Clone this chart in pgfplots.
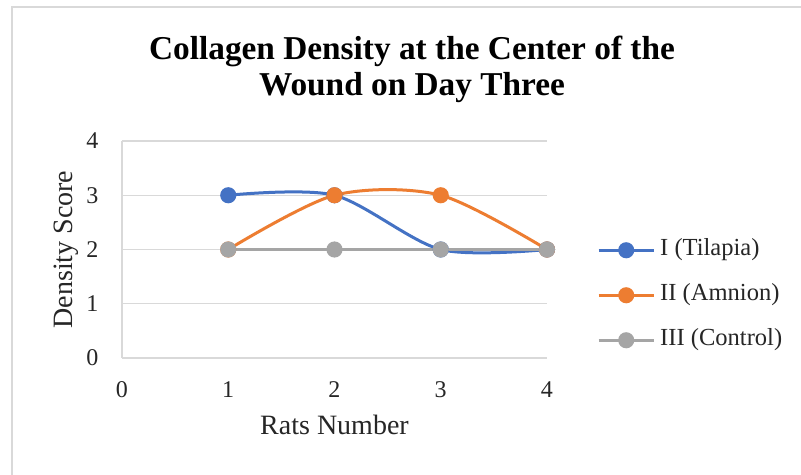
\documentclass[border=0pt]{standalone}
\usepackage{fontspec}
\setmainfont{Liberation Serif}
\usepackage{pgfplots}
\pgfplotsset{compat=1.18}
\definecolor{cblue}{HTML}{4472C4}
\definecolor{corange}{HTML}{ED7D31}
\definecolor{cgray}{HTML}{A5A5A5}
\definecolor{gridgray}{HTML}{D9D9D9}
\definecolor{framegray}{HTML}{D9D9D9}
\begin{document}
\begin{tikzpicture}
\useasboundingbox (-91.5pt,-87.75pt) rectangle (509.25pt,268.5pt);
\fill[white] (-91.5pt,-87.75pt) rectangle (509.25pt,268.5pt);
\draw[framegray, line width=0.9pt] (-82.5pt,-87.75pt) -- (-82.5pt,263.25pt) -- (509.25pt,263.25pt);
\node[anchor=base, font=\fontsize{25}{27}\selectfont\bfseries] at (217.5pt,223.5pt) {Collagen Density at the Center of the};
\node[anchor=base, font=\fontsize{25}{27}\selectfont\bfseries] at (217.5pt,196.5pt) {Wound on Day Three};
\begin{axis}[
  scale only axis, width=318.75pt, height=162.75pt,
  at={(0pt,0pt)}, anchor=south west,
  xmin=0, xmax=4, ymin=0, ymax=4,
  xtick={0,1,2,3,4}, ytick={0,1,2,3,4},
  axis lines=left,
  axis line style={draw=gridgray, line width=0.9pt, -},
  ymajorgrids, grid style={draw=gridgray, line width=0.9pt},
  major tick length=0pt,
  /pgf/number format/assume math mode=true,
  tick label style={font=\fontsize{18}{20}\selectfont, inner sep=0pt, text=black!85},
  xticklabel style={anchor=base, yshift=-30pt},
  yticklabel style={anchor=east, xshift=-17.5pt},
  xlabel={Rats Number},
  xlabel style={at={([yshift=-57.75pt]axis description cs:0.5,0)}, anchor=base, inner sep=0pt, font=\fontsize{21}{24}\selectfont, text=black!85},
  ylabel={Density Score},
  ylabel style={at={([xshift=-36.75pt]axis description cs:0,0.5)}, rotate=0, anchor=base, inner sep=0pt, font=\fontsize{21}{24}\selectfont, text=black!85},
  legend style={draw=none, fill=none, inner sep=0pt, at={(1.1176,0.5469)}, anchor=north west,
    font=\fontsize{18.4}{22}\selectfont, row sep=17.75pt, column sep=3.75pt,
    nodes={inner sep=0pt, text height=12pt, text depth=4pt, text=black!85}},
  legend cell align=left,
  legend image code/.code={\draw[#1, mark repeat=2, mark phase=2] plot coordinates {(0pt,0pt) (20.6pt,0pt) (41.25pt,0pt)};},
]
\addplot[cblue, line width=2.25pt, smooth, mark=*, mark size=4.9pt, mark options={solid, fill=cblue, draw=cblue}]
  coordinates {(1,3) (2,3) (3,2) (4,2)};
\addlegendentry{I (Tilapia)}
\addplot[corange, line width=2.25pt, smooth, mark=*, mark size=4.9pt, mark options={solid, fill=corange, draw=corange}]
  coordinates {(1,2) (2,3) (3,3) (4,2)};
\addlegendentry{II (Amnion)}
\addplot[cgray, line width=2.25pt, smooth, mark=*, mark size=4.9pt, mark options={solid, fill=cgray, draw=cgray}]
  coordinates {(1,2) (2,2) (3,2) (4,2)};
\addlegendentry{III (Control)}
\end{axis}
\end{tikzpicture}
\end{document}
